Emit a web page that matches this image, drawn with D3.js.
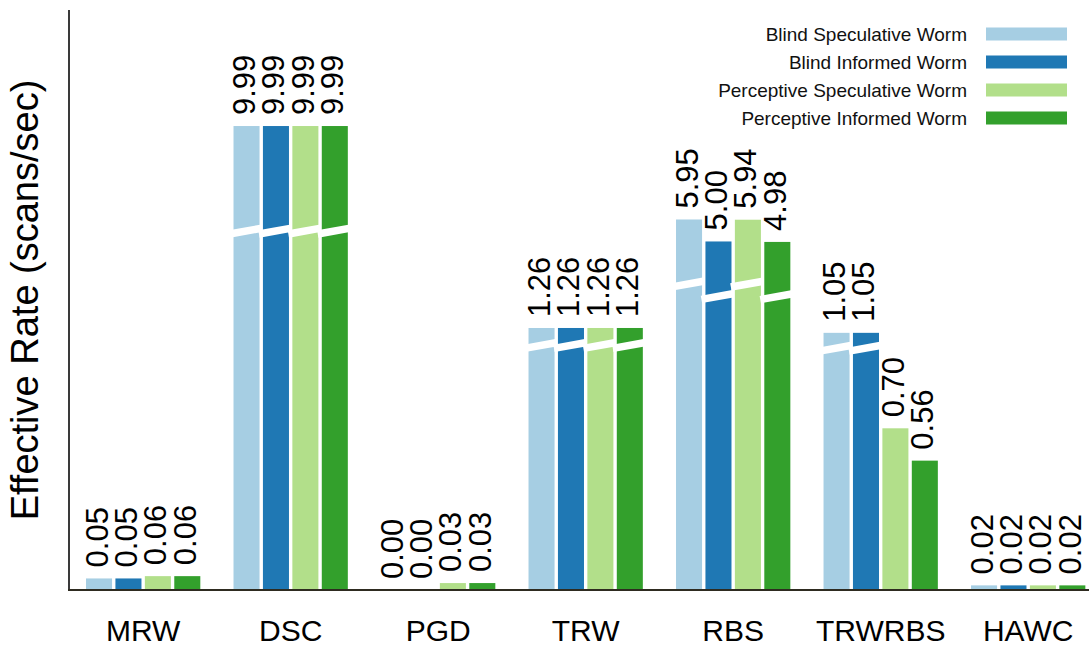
<!DOCTYPE html>
<html>
<head>
<meta charset="utf-8">
<script src="https://cdn.jsdelivr.net/npm/d3@7"></script>
<style>
  html, body { margin: 0; padding: 0; background: #fff; }
  svg { display: block; font-family: "Liberation Sans", Arial, Helvetica, sans-serif; }
</style>
</head>
<body>
<svg id="chart" width="1089" height="648"></svg>
<script>
// Worm families compared on each defence
const categories = ["MRW", "DSC", "PGD", "TRW", "RBS", "TRWRBS", "HAWC"];
const seriesNames = [
  "Blind Speculative Worm",
  "Blind Informed Worm",
  "Perceptive Speculative Worm",
  "Perceptive Informed Worm"
];
// Effective rate (scans/sec) per defence, one array per worm type
const blindSpeculative      = [0.05, 9.99, 0.00, 1.26, 5.95, 1.05, 0.02];
const blindInformed         = [0.05, 9.99, 0.00, 1.26, 5.00, 1.05, 0.02];
const perceptiveSpeculative = [0.06, 9.99, 0.03, 1.26, 5.94, 0.70, 0.02];
const perceptiveInformed    = [0.06, 9.99, 0.03, 1.26, 4.98, 0.56, 0.02];
const seriesColors = ["#a6cee3", "#1f78b4", "#b2df8a", "#33a02c"];

// values above this are drawn on a compressed upper segment of the axis
const axisBreak = 1;

const seriesValues = [blindSpeculative, blindInformed, perceptiveSpeculative, perceptiveInformed];

const svg = d3.select("#chart");
const W = 1089, Hgt = 648;
const margin = { top: 10, left: 69, bottom: 58 };
const plotBottom = Hgt - margin.bottom; // 590

// Broken value axis: a tall lower segment and a compressed upper segment
const yLow = d3.scaleLinear().domain([0, axisBreak]).range([plotBottom, plotBottom - 231]);
const yHigh = d3.scaleLinear().domain([axisBreak, 10]).range([plotBottom - 256, plotBottom - 464.2]);
const y = v => (v <= axisBreak ? yLow(v) : yHigh(v));

const x0 = d3.scaleBand()
  .domain(categories)
  .range([71.25, 1100.1])
  .paddingInner(0.225)
  .paddingOuter(0.1);

const x1 = d3.scaleBand()
  .domain(seriesNames)
  .range([0, x0.bandwidth()])
  .paddingInner(0.115);

const color = d3.scaleOrdinal().domain(seriesNames).range(seriesColors);

const rows = [];
categories.forEach((cat, ci) => {
  seriesNames.forEach((s, si) => {
    rows.push({ cat, series: s, value: seriesValues[si][ci] });
  });
});

const groups = svg.append("g").selectAll("g.group")
  .data(categories)
  .join("g")
  .attr("class", "group")
  .attr("transform", d => `translate(${x0(d)},0)`);

const bars = groups.selectAll("g.bar")
  .data(cat => rows.filter(r => r.cat === cat))
  .join("g")
  .attr("class", "bar");

bars.append("rect")
  .attr("x", d => x1(d.series))
  .attr("y", d => y(d.value))
  .attr("width", x1.bandwidth())
  .attr("height", d => plotBottom - y(d.value))
  .attr("fill", d => color(d.series));

// slanted white cut across every bar that reaches the compressed segment
const slope = 0.18;
const overhang = 4;
bars.filter(d => d.value > axisBreak)
  .append("line")
  .each(function (d) {
    const cy = yHigh(0.566 * d.value - 0.2);
    const xa = x1(d.series) - overhang;
    const xb = x1(d.series) + x1.bandwidth() + overhang;
    const half = (xb - xa) / 2;
    d3.select(this)
      .attr("x1", xa).attr("y1", cy + slope * half)
      .attr("x2", xb).attr("y2", cy - slope * half);
  })
  .attr("stroke", "#fff")
  .attr("stroke-width", 7.5);

// value labels, rotated, above each bar
bars.append("text")
  .attr("transform", d => `translate(${x1(d.series) + x1.bandwidth() / 2 + 8.5},${y(d.value) - 11}) rotate(-90)`)
  .attr("text-anchor", "start")
  .attr("font-size", 31)
  .attr("fill", "#000")
  .text(d => d.value.toFixed(2));

// axes lines
svg.append("line")
  .attr("x1", margin.left).attr("x2", margin.left)
  .attr("y1", margin.top).attr("y2", plotBottom + 1)
  .attr("stroke", "#3a3a3a").attr("stroke-width", 2);

svg.append("line")
  .attr("x1", margin.left - 1).attr("x2", W)
  .attr("y1", plotBottom).attr("y2", plotBottom)
  .attr("stroke", "#2e2b20").attr("stroke-width", 2);

// category labels
svg.append("g").selectAll("text")
  .data(categories)
  .join("text")
  .attr("x", d => x0(d) + x0.bandwidth() / 2)
  .attr("y", plotBottom + 51)
  .attr("text-anchor", "middle")
  .attr("font-size", 30)
  .attr("fill", "#000")
  .text(d => d);

// y axis title
svg.append("text")
  .attr("transform", `translate(38,${300}) rotate(-90)`)
  .attr("text-anchor", "middle")
  .attr("font-size", 38)
  .attr("fill", "#000")
  .text("Effective Rate (scans/sec)");

// legend
const legend = svg.append("g").attr("transform", "translate(0,34)");
const legendRows = legend.selectAll("g")
  .data(seriesNames)
  .join("g")
  .attr("transform", (d, i) => `translate(0,${i * 28})`);

legendRows.append("rect")
  .attr("x", 986).attr("y", -6.5)
  .attr("width", 81).attr("height", 13)
  .attr("fill", d => color(d));

legendRows.append("text")
  .attr("x", 967).attr("y", 0)
  .attr("dy", "0.35em")
  .attr("text-anchor", "end")
  .attr("font-size", 19)
  .attr("fill", "#111")
  .text(d => d);
</script>
</body>
</html>
